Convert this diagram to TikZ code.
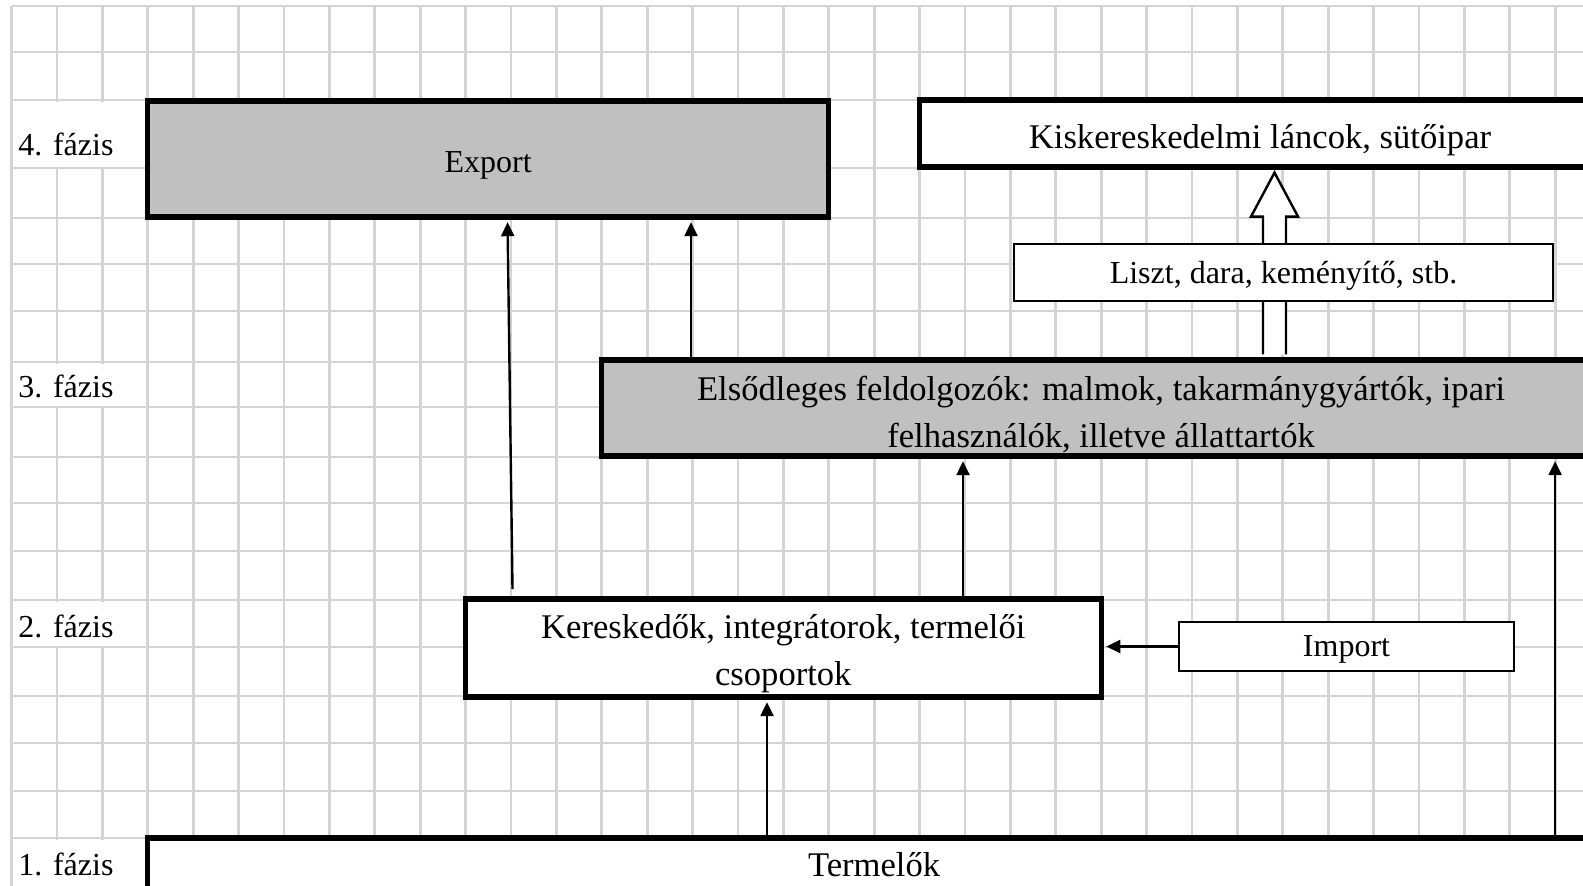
\documentclass[tikz,border=0pt]{standalone}
\usepackage{fontspec}
\setmainfont{Liberation Serif}
\usetikzlibrary{arrows.meta,fit,calc}
\definecolor{gridgray}{RGB}{212,212,212}
\definecolor{boxgray}{RGB}{192,192,192}
\tikzset{
  cell/.style={draw=gridgray, line width=1.4pt},
  phase/.style={anchor=base west, inner sep=0pt},
  bigbox/.style={draw, line width=2.6pt, inner sep=0pt},
  smallbox/.style={draw, line width=1.2pt, fill=white, inner sep=0pt},
  boxtext/.style={anchor=base, inner sep=0pt, align=center},
  bigtext/.style={boxtext, font=\fontsize{17.3}{23.5}\selectfont},
  flow/.style={line width=1.2pt, -{Triangle[width=6.5pt,length=7pt]}, shorten >=1.3pt},
  hollow/.style={draw, fill=white, line width=1.2pt}
}
\begin{document}
\begin{tikzpicture}[x=0.5pt, y=-0.5pt, font=\fontsize{16}{23.5}\selectfont]
\useasboundingbox (0,0) rectangle (1583,885);
% grid
\foreach \i in {0,...,34}
  \draw[cell] (11.5+45.4*\i,6) -- (11.5+45.4*\i,900);
\foreach \y in {6,52,100,168,218,264,311,362,407,457,503,551,600,647,696,743,791,838}
  \draw[cell] (11.5,\y) -- (1600,\y);
\foreach \t/\b in {100/168,362/407,600/647,838/900}
  \fill[white] (13,\t+1.5) rectangle (146,\b-1.5);

% phases
\node[phase] (f4) at (18,155) {4. fázis};
\node[phase] (f3) at (18,397) {3. fázis};
\node[phase] (f2) at (18,637) {2. fázis};
\node[phase] (f1) at (18,875) {1. fázis};

% boxes
\node[bigbox, fill=boxgray, fit={(147.7,101) (828.7,217)}] (export) {};
\node[bigbox, fill=white, fit={(919.5,100) (1600.5,167)}] (kisker) {};
\node[bigbox, fill=boxgray, fit={(601.7,360) (1600.5,456)}] (elso) {};
\node[bigbox, fill=white, fit={(465.5,599) (1101.1,697)}] (keresk) {};
\node[bigbox, fill=white, fit={(147.7,838) (1600.5,892)}] (termelok) {};

\node[boxtext] (exporttext) at (export.center |- 0,172) {Export};
\node[bigtext] (kiskertext) at (kisker.center |- 0,148) {Kiskereskedelmi láncok, sütőipar};
\node[bigtext] (elsotext) at (elso.center |- 0,447.5) {Elsődleges feldolgozók: malmok, takarmánygyártók, ipari\\felhasználók, illetve állattartók};
\node[bigtext] (kereskt) at (keresk.center |- 0,685) {Kereskedők, integrátorok, termelői\\csoportok};
\node[bigtext] (termeloktext) at (termelok.center |- 0,876.5) {Termelők};

% hollow arrow
\coordinate (hx) at (1274.5,0);
\draw[hollow] ($(elso.north -| hx)+(-11.5,-3)$) -- ($(kisker.south -| hx)+(-11.5,47)$) -- ++(-12,0)
  -- ($(kisker.south -| hx)+(0,3)$) -- ($(kisker.south -| hx)+(23.5,47)$) -- ++(-12,0)
  -- ($(elso.north -| hx)+(11.5,-3)$);

\node[smallbox, fit={(1014,244) (1553,301)}] (liszt) {};
\node[boxtext] (liszttext) at (liszt.center |- 0,283) {Liszt, dara, keményítő, stb.};
\node[smallbox, fit={(1179,622) (1514,671)}] (import) {};
\node[boxtext] (importtext) at (import.center |- 0,656.5) {Import};

% arrows
\coordinate (ex) at (512.5,589);
\draw[flow] (ex) -- (export.south -| 507.5,0);
\draw[flow] (elso.north -| 691,0) -- (export.south -| 691,0);
\draw[flow] (keresk.north -| 963,0) -- (elso.south -| 963,0);
\draw[flow] (termelok.north -| 767,0) -- (keresk.south -| 767,0);
\draw[flow] (termelok.north -| 1555.1,0) -- (elso.south -| 1555.1,0);
\draw[flow] (import.west) -- (keresk.east |- import.west);
\end{tikzpicture}
\end{document}
